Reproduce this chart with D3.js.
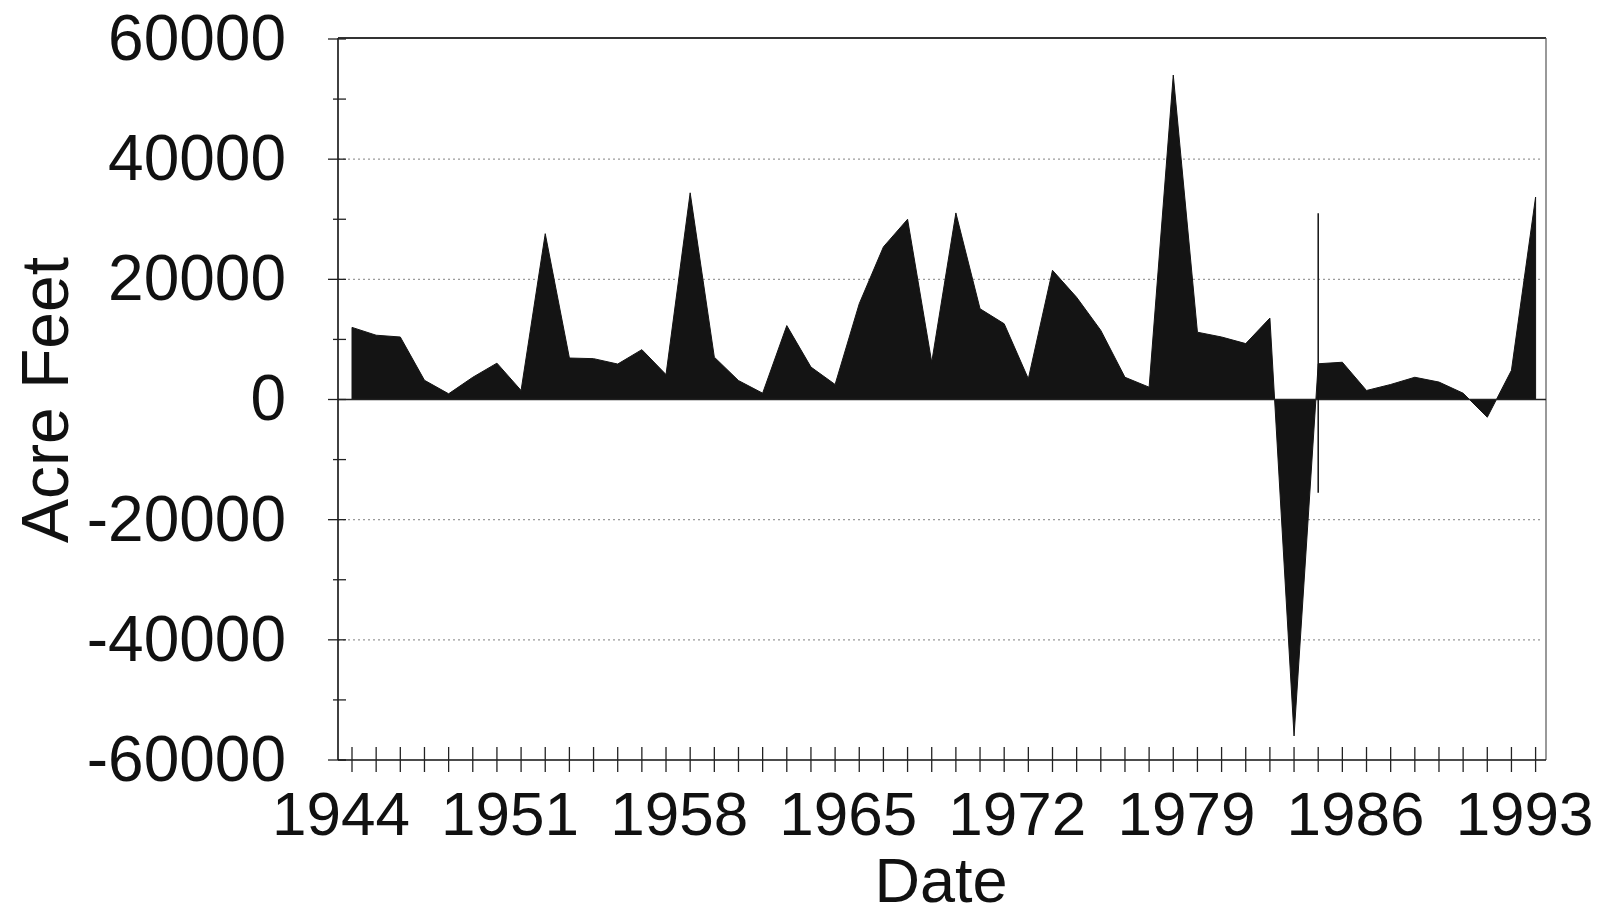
<!DOCTYPE html>
<html>
<head>
<meta charset="utf-8">
<script src="https://cdn.jsdelivr.net/npm/d3@7"></script>
<style>
  html, body { margin: 0; padding: 0; background: #fff; }
  svg { display: block; font-family: "Liberation Sans", Arial, sans-serif; }
</style>
</head>
<body>
<svg id="chart" width="1600" height="915"></svg>
<script>
// ---- data ----
const years = d3.range(1944, 1994);
const acreFeet = [
  12000, 10700, 10400, 3200, 950, 3700, 6050, 1500, 27600, 6900,
  6800, 5900, 8300, 4150, 34400, 7050, 3150, 1050, 12300, 5400,
  2500, 15950, 25400, 30000, 6200, 31050, 15100, 12600, 3450, 21500,
  17000, 11500, 3700, 2050, 54000, 11200, 10400, 9300, 13550, -56000,
  5950, 6200, 1500, 2500, 3700, 2900, 1050, -2950, 4850, 33700
];
const yTickValues = [-60000, -40000, -20000, 0, 20000, 40000, 60000];
const yMinorTicks = d3.range(-60000, 60001, 10000);
const gridValues = [-40000, -20000, 20000, 40000];
const xLabelYears = [1944, 1951, 1958, 1965, 1972, 1979, 1986, 1993];
const markYear = 1984;          // stray vertical mark in the original
const markRange = [31000, -15500];

// ---- layout ----
const plot = { left: 338, right: 1546, top: 38, bottom: 760 };
const data = years.map((yr, i) => ({ year: yr, value: acreFeet[i] }));

const x = d3.scaleLinear().domain([1944, 1993]).range([352, 1535.6]);
const y = d3.scaleLinear().domain([-60000, 60000]).range([plot.bottom, plot.top + 1]);

const svg = d3.select("#chart");

// gridlines (dotted)
svg.append("g").selectAll("line").data(gridValues).join("line")
  .attr("x1", plot.left).attr("x2", plot.right - 4)
  .attr("y1", d => y(d)).attr("y2", d => y(d))
  .attr("stroke", "#9a9a9a").attr("stroke-width", 1.2)
  .attr("stroke-dasharray", "2,3");

// plot frame: top & right
svg.append("line").attr("x1", plot.left).attr("x2", plot.right)
  .attr("y1", plot.top).attr("y2", plot.top)
  .attr("stroke", "#333").attr("stroke-width", 2);
svg.append("line").attr("x1", plot.right).attr("x2", plot.right)
  .attr("y1", plot.top).attr("y2", plot.bottom)
  .attr("stroke", "#555").attr("stroke-width", 1.2);

// area
const area = d3.area()
  .x(d => x(d.year))
  .y0(y(0))
  .y1(d => y(d.value));
svg.append("path").datum(data)
  .attr("d", area)
  .attr("fill", "#141414")
  .attr("stroke", "#141414").attr("stroke-width", 1);

// zero line
svg.append("line").attr("x1", plot.left).attr("x2", plot.right)
  .attr("y1", y(0)).attr("y2", y(0))
  .attr("stroke", "#222").attr("stroke-width", 1.5);

// stray vertical mark
svg.append("line").attr("x1", x(markYear)).attr("x2", x(markYear))
  .attr("y1", y(markRange[0])).attr("y2", y(markRange[1]))
  .attr("stroke", "#111").attr("stroke-width", 1.5);

// y axis
const yAxis = d3.axisLeft(y).tickValues(yTickValues)
  .tickFormat(d => String(d)).tickSize(0).tickPadding(52);
const gy = svg.append("g").attr("transform", `translate(${plot.left},0)`).call(yAxis);
gy.select(".domain").attr("stroke", "#111").attr("stroke-width", 1.6)
  .attr("d", `M0,${plot.top}V${plot.bottom}`);
gy.selectAll("text").attr("font-size", 64).attr("fill", "#111")
  .attr("font-family", "Liberation Sans, Arial, sans-serif");
svg.append("g").selectAll("line").data(yMinorTicks).join("line")
  .attr("x1", d => plot.left - (d % 20000 === 0 ? 10 : 5)).attr("x2", plot.left + 8)
  .attr("y1", d => y(d)).attr("y2", d => y(d))
  .attr("stroke", "#222").attr("stroke-width", 1.3);

// x axis
const xAxis = d3.axisBottom(x).tickValues(years).tickSize(0).tickFormat("");
const gx = svg.append("g").attr("transform", `translate(0,${plot.bottom})`).call(xAxis);
gx.select(".domain").attr("stroke", "#111").attr("stroke-width", 1.6)
  .attr("d", `M${plot.left},0H${plot.right}`);
svg.append("g").selectAll("line").data(years).join("line")
  .attr("x1", d => x(d)).attr("x2", d => x(d))
  .attr("y1", plot.bottom - 13).attr("y2", plot.bottom + 12)
  .attr("stroke", "#222").attr("stroke-width", 1.3);
svg.append("g").selectAll("text").data(xLabelYears).join("text")
  .attr("x", d => x(d) - 11).attr("y", 835)
  .attr("text-anchor", "middle").attr("font-size", 62).attr("fill", "#111")
  .text(d => d);

// axis titles
svg.append("text").attr("x", 941).attr("y", 902)
  .attr("text-anchor", "middle").attr("font-size", 63).attr("fill", "#111")
  .text("Date");
svg.append("text")
  .attr("transform", "translate(68,400) rotate(-90)")
  .attr("text-anchor", "middle").attr("font-size", 66).attr("fill", "#111")
  .text("Acre Feet");
</script>
</body>
</html>
